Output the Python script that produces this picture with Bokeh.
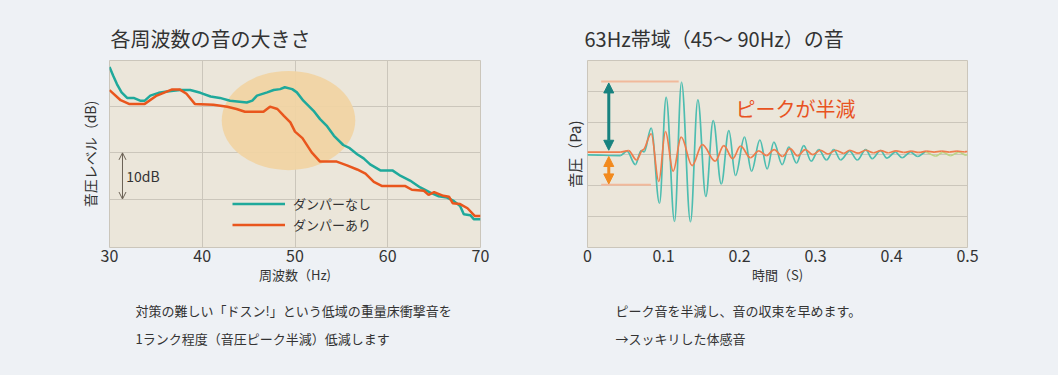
import numpy as np
from bokeh.plotting import figure
from bokeh.layouts import row
from bokeh.models import (Range1d, FixedTicker, Legend, LegendItem, Label, Arrow, Title,
                          OpenHead, NormalHead, ColumnDataSource, CustomJSTickFormatter,
                          GlobalInlineStyleSheet)
from bokeh.embed import file_html
from bokeh.resources import INLINE

# ---------------- data: left chart (frequency response) ----------------
freq_ticks = [30, 40, 50, 60, 70]
nodamper_hz = [30, 30.4, 30.8, 31.3, 31.9, 32.6, 33.3, 33.8, 34.4, 35.3, 36.2, 37.6, 38.7, 39.8, 40.9,
               41.9, 43.0, 44.8, 45.4, 45.9, 47.0, 47.7, 48.4, 48.9, 49.7, 50.2, 50.9, 52.0, 52.7, 53.4,
               54.2, 55.2, 55.9, 56.7, 57.4, 58.1, 59.2, 60.5, 61.4, 62.4, 63.5, 64.6, 65.5, 66.4, 67.1,
               67.8, 68.2, 68.9, 69.3, 70]
nodamper_db = [78.6, 76.7, 74.9, 73.1, 71.9, 71.9, 71.3, 71.3, 72.4, 73.0, 73.3, 73.6, 73.6, 73.0, 72.2,
               71.9, 71.3, 70.9, 71.3, 72.4, 73.1, 73.6, 73.8, 74.2, 73.8, 73.1, 71.3, 69.1, 67.3, 65.9,
               63.7, 61.7, 61.0, 59.7, 58.8, 57.5, 56.2, 56.2, 55.0, 54.0, 52.5, 51.4, 50.6, 50.3, 49.6,
               48.5, 46.7, 46.5, 45.6, 45.6]
damper_hz = [30, 31.2, 32.1, 33.8, 35.1, 36.7, 37.6, 38.3, 39.2, 41.2, 42.7, 43.7, 44.6, 46.6, 47.3,
             48.1, 48.8, 49.5, 50.0, 50.8, 51.8, 52.7, 54.5, 55.6, 56.7, 57.6, 58.5, 59.4, 61.9, 62.6,
             63.9, 64.4, 65.0, 66.0, 66.6, 67.0, 67.8, 68.6, 69.4, 70]
damper_db = [73.6, 71.4, 70.6, 70.6, 72.4, 73.7, 73.7, 72.8, 70.6, 70.4, 70.0, 69.5, 68.9, 68.9, 70.0,
             69.5, 68.0, 66.6, 64.6, 63.2, 60.1, 58.1, 58.1, 57.3, 56.4, 55.5, 53.7, 52.8, 52.8, 52.0,
             51.8, 50.9, 51.5, 50.7, 50.5, 49.1, 48.9, 48.0, 46.3, 46.3]
series_names = ["ダンパーなし", "ダンパーあり"]

# ---------------- data: right chart (waveform extrema) ----------------
time_ticks = [0, 0.1, 0.2, 0.3, 0.4, 0.5]
nodamper_t = [0, 0.043, 0.052, 0.063, 0.0706, 0.0745, 0.0838, 0.0947, 0.1035, 0.1145, 0.1237, 0.1355,
              0.1452, 0.1557, 0.1654, 0.176, 0.186, 0.1947, 0.2066, 0.2158, 0.2268, 0.2364, 0.2452,
              0.2562, 0.2649, 0.275, 0.2846, 0.2943, 0.3043, 0.3145, 0.324, 0.333, 0.345, 0.355, 0.366,
              0.3746, 0.3855, 0.394, 0.405, 0.414, 0.425, 0.4346, 0.4447, 0.458, 0.4675, 0.4776,
              0.4886, 0.4987, 0.5]
nodamper_pa = [-0.03, -0.05, 0.09, -0.34, 0.11, 0.07, 0.83, -1.58, 1.82, -2.16, 2.30, -2.17, 1.74,
               -1.36, 1.07, -0.96, 0.75, -0.69, 0.54, -0.55, 0.45, -0.48, 0.38, -0.34, 0.22, -0.29,
               0.27, -0.23, 0.14, -0.19, 0.14, -0.19, 0.09, -0.19, 0.14, -0.15, 0.11, -0.13, 0.06,
               -0.12, 0.06, -0.08, 0.06, -0.07, 0.05, -0.05, 0.06, -0.04, -0.02]
damper_t = [0, 0.043, 0.054, 0.0645, 0.073, 0.0838, 0.0938, 0.1026, 0.1127, 0.1233, 0.1377, 0.151,
            0.168, 0.1794, 0.191, 0.2013, 0.2145, 0.2254, 0.2355, 0.2455, 0.2565, 0.2665, 0.2765,
            0.2865, 0.2965, 0.3065, 0.3165, 0.3265, 0.337, 0.345, 0.356, 0.366, 0.376, 0.386, 0.396,
            0.406, 0.416, 0.426, 0.436, 0.446, 0.456, 0.466, 0.476, 0.486, 0.496, 0.5]
damper_pa = [0.06, 0.06, 0.11, -0.19, 0.13, 0.65, -0.88, 0.72, -0.55, 0.54, -0.37, 0.30, -0.23, 0.27,
             -0.15, 0.25, -0.12, 0.10, -0.05, 0.14, -0.08, 0.17, -0.06, 0.14, -0.02, 0.12, 0.0, 0.12,
             0.02, 0.12, 0.03, 0.12, 0.04, 0.11, 0.04, 0.10, 0.05, 0.09, 0.05, 0.09, 0.06, 0.09, 0.06,
             0.09, 0.07, 0.08]
peak_nodamper = 2.33
peak_damper = -0.99

# ---------------- texts ----------------
title_left = "各周波数の音の大きさ"
title_right = "63Hz帯域（45～ 90Hz）の音"
ylabel_left = "音圧レベル（dB)"
xlabel_left = "周波数（Hz)"
ylabel_right = "音圧（Pa)"
xlabel_right = "時間（S)"
caption_left = ["対策の難しい「ドスン!」という低域の重量床衝撃音を", "1ランク程度（音圧ピーク半減）低減します"]
caption_right = ["ピーク音を半減し、音の収束を早めます。", "→スッキリした体感音"]
annot_right = "ピークが半減"

# ---------------- styles ----------------
FONT = "Noto Sans CJK JP"
PAGE_BG = "#eef1f5"
PLOT_BG = "#ebe6da"
GRID = "#cbc6bb"
TXT = "#333333"
TEAL = "#1fa99b"
ORANGE = "#e9561d"
TEAL_W = "#4dbdb0"
ORANGE_W = "#ef7c4c"


def base_fig(width, xr, yr, left, right, title, xlabel, ylabel, ylab_size, ylab_standoff,
             title_offset, captions, cap_offset):
    p = figure(width=width, height=375, x_range=xr, y_range=yr, output_backend="svg",
               toolbar_location=None, min_border_left=left, min_border_right=right,
               min_border_top=60, min_border_bottom=128, background_fill_color=PLOT_BG,
               border_fill_color=PAGE_BG, outline_line_color=GRID)
    p.title.text = title
    p.title.align = "left"
    p.title.offset = title_offset
    p.title.standoff = 16
    p.title.text_font = FONT
    p.title.text_font_size = "20px"
    p.title.text_font_style = "normal"
    p.title.text_color = TXT

    ya = p.yaxis[0]
    ya.ticker = FixedTicker(ticks=[])
    ya.axis_line_color = None
    ya.major_tick_out = 0
    ya.minor_tick_out = 0
    ya.axis_label = ylabel
    ya.axis_label_text_font = FONT
    ya.axis_label_text_font_size = f"{ylab_size}px"
    ya.axis_label_text_font_style = "normal"
    ya.axis_label_text_color = TXT
    ya.axis_label_standoff = ylab_standoff

    ax = p.xaxis[0]
    ax.axis_line_color = None
    ax.major_tick_line_color = None
    ax.minor_tick_line_color = None
    ax.major_tick_out = 0
    ax.minor_tick_out = 0
    ax.major_label_text_font = FONT
    ax.major_label_text_font_size = "16px"
    ax.major_label_text_color = TXT
    ax.major_label_standoff = 2
    ax.axis_label = xlabel
    ax.axis_label_text_font = FONT
    ax.axis_label_text_font_size = "13px"
    ax.axis_label_text_font_style = "normal"
    ax.axis_label_text_color = TXT
    ax.axis_label_standoff = 0

    for i, cap in enumerate(captions):
        p.add_layout(Title(text=cap, align="left", offset=cap_offset, standoff=24 if i == 0 else -10,
                           text_font=FONT, text_font_size="13px", text_font_style="normal",
                           text_color=TXT), "below")
    p.grid.grid_line_color = GRID
    return p


# ---------------- left chart ----------------
p1 = base_fig(533, Range1d(30, 70), Range1d(39.5, 80), 109, 53, title_left, xlabel_left,
              ylabel_left, 14, 10, 1, caption_left, 26)
p1.xaxis.ticker = FixedTicker(ticks=freq_ticks)
p1.xgrid.ticker = FixedTicker(ticks=freq_ticks[1:-1])
p1.ygrid.ticker = FixedTicker(ticks=[50, 60, 70])

p1.ellipse(x=49.3, y=67.0, width=14.4, height=21.5, fill_color="#f1d4a3", fill_alpha=0.92,
           line_color=None)
r_no = p1.line(nodamper_hz, nodamper_db, line_color=TEAL, line_width=2.5)
r_da = p1.line(damper_hz, damper_db, line_color=ORANGE, line_width=2.5)

legend = Legend(items=[LegendItem(label=series_names[0], renderers=[r_no]),
                       LegendItem(label=series_names[1], renderers=[r_da])],
                location=(123, 13), background_fill_alpha=0, border_line_color=None,
                padding=0, margin=0, spacing=2, glyph_width=53, glyph_height=17,
                label_height=17, label_standoff=8, label_text_font=FONT,
                label_text_font_size="13px", label_text_color=TXT)
p1.add_layout(legend)

p1.add_layout(Arrow(x_start=31.4, y_start=50, x_end=31.4, y_end=60, line_color="#6b6256",
                    line_width=1,
                    start=OpenHead(size=7, line_color="#6b6256", line_width=1),
                    end=OpenHead(size=7, line_color="#6b6256", line_width=1)))
p1.add_layout(Label(x=31.8, y=55, text="10dB", text_font=FONT, text_font_size="14px",
                    text_color=TXT, text_baseline="middle"))

# ---------------- right chart ----------------
p2 = base_fig(525, Range1d(0, 0.5), Range1d(-3, 3), 54, 91, title_right, xlabel_right,
              ylabel_right, 15, 3, -3, caption_right, 28)
p2.xaxis.ticker = FixedTicker(ticks=time_ticks)
p2.xaxis.formatter = CustomJSTickFormatter(code="return String(tick)")
p2.xgrid.visible = False
p2.ygrid.ticker = FixedTicker(ticks=[-2, -1, 0, 1, 2])


def bez_source(ts, vs, colors):
    t = np.asarray(ts, dtype=float)
    v = np.asarray(vs, dtype=float)
    dt = np.diff(t)
    k = 0.3642
    return ColumnDataSource(dict(x0=t[:-1], y0=v[:-1], x1=t[1:], y1=v[1:],
                                 cx0=t[:-1] + k * dt, cy0=v[:-1],
                                 cx1=t[1:] - k * dt, cy1=v[1:],
                                 c=[colors(a) for a in t[:-1]]))


src_no = bez_source(nodamper_t, nodamper_pa, lambda a: TEAL_W if a < 0.44 else "#bcd487")
src_da = bez_source(damper_t, damper_pa, lambda a: ORANGE_W)
p2.bezier(x0="x0", y0="y0", x1="x1", y1="y1", cx0="cx0", cy0="cy0", cx1="cx1", cy1="cy1",
          line_color="c", line_width=1.7, source=src_no)
p2.bezier(x0="x0", y0="y0", x1="x1", y1="y1", cx0="cx0", cy0="cy0", cx1="cx1", cy1="cy1",
          line_color="c", line_width=1.7, source=src_da)

p2.segment(x0=[0.018, 0.018], y0=[peak_nodamper, peak_damper], x1=[0.120, 0.0835],
           y1=[peak_nodamper, peak_damper], line_color="#f1b99b", line_width=2)

p2.add_layout(Arrow(x_start=0.028, y_start=0.12, x_end=0.028, y_end=peak_nodamper - 0.05,
                    line_color="#17827f", line_width=3,
                    start=NormalHead(size=10, fill_color="#17827f", line_color="#17827f"),
                    end=NormalHead(size=10, fill_color="#17827f", line_color="#17827f")))
p2.add_layout(Arrow(x_start=0.028, y_start=-0.08, x_end=0.028, y_end=peak_damper + 0.03,
                    line_color="#f28a1e", line_width=3,
                    start=NormalHead(size=10, fill_color="#f28a1e", line_color="#f28a1e"),
                    end=NormalHead(size=10, fill_color="#f28a1e", line_color="#f28a1e")))
p2.add_layout(Label(x=0.2737, y=1.46, text=annot_right, text_font=FONT,
                    text_font_size="20px", text_color="#e8531f", text_align="center",
                    text_baseline="middle"))

layout = row(p1, p2, spacing=0,
             stylesheets=[GlobalInlineStyleSheet(css=f"body {{ background: {PAGE_BG}; }}")])

open("out.html", "w").write(file_html(layout, INLINE))
